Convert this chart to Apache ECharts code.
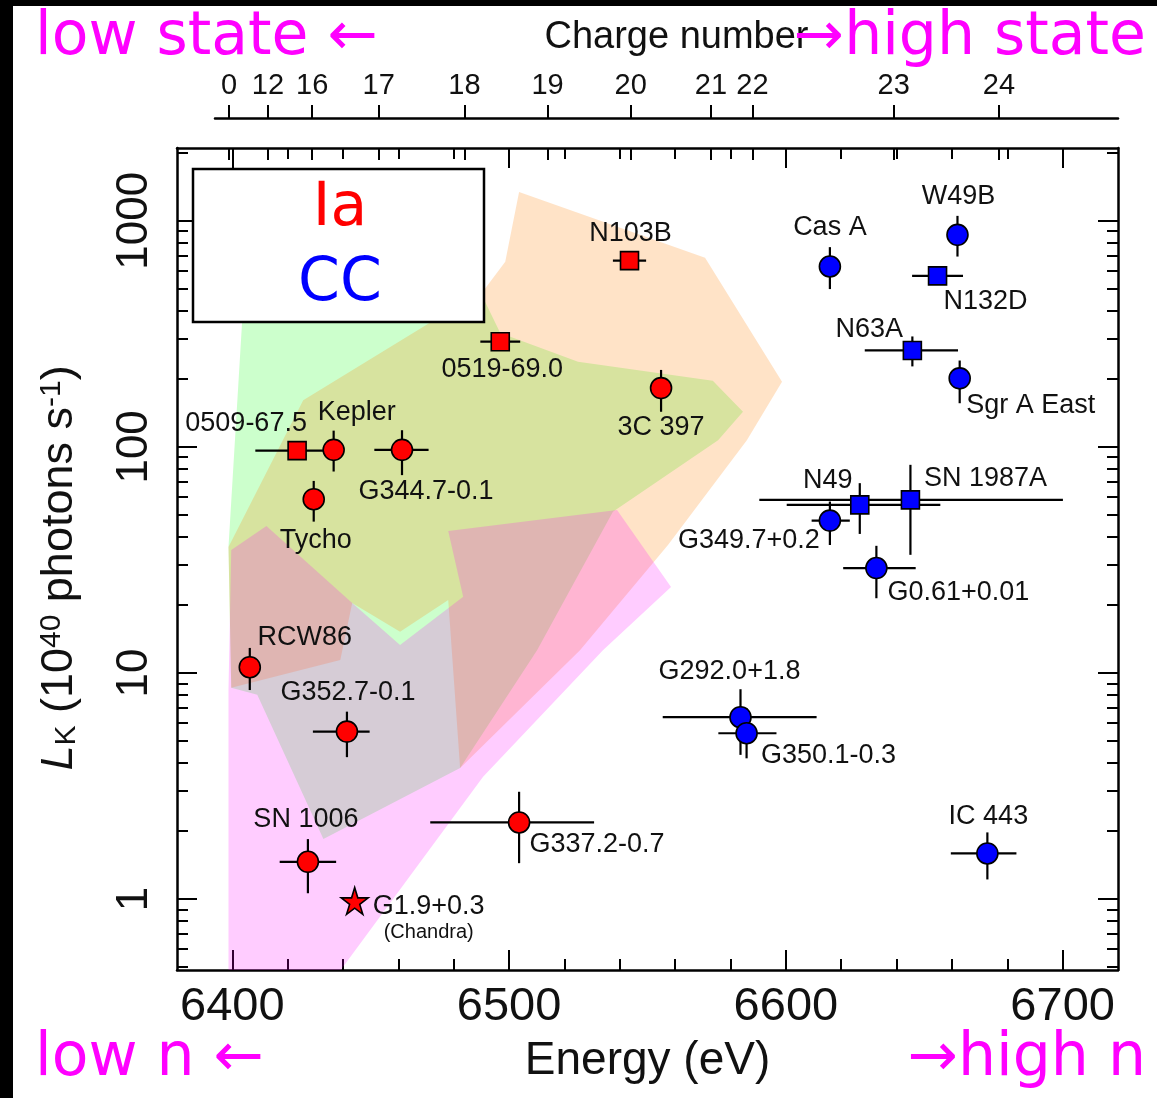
<!DOCTYPE html>
<html>
<head>
<meta charset="utf-8">
<script src="https://cdn.jsdelivr.net/npm/echarts@6/dist/echarts.min.js"></script>
<style>
  html, body { margin: 0; padding: 0; background: #fff; }
  #chart { width: 1157px; height: 1098px; }
</style>
</head>
<body>
<div id="chart"></div>
<script>
// Fe K-alpha centroid energy vs. K-shell line luminosity of supernova remnants

// Type Ia remnants
const iaNames = ['N103B', '0519-69.0', '3C 397', '0509-67.5', 'Kepler', 'G344.7-0.1', 'Tycho', 'RCW86', 'G352.7-0.1', 'SN 1006', 'G1.9+0.3', 'G337.2-0.7'];
const iaMarker = ['square', 'square', 'circle', 'square', 'circle', 'circle', 'circle', 'circle', 'circle', 'circle', 'star', 'circle'];
const iaEnergy = [6543.5, 6496.8, 6554.9, 6423.4, 6436.6, 6461.3, 6429.4, 6406.3, 6441.4, 6427.3, 6444.2, 6503.6];
const iaLum = [667, 292, 182, 96.3, 97, 97, 58.7, 10.6, 5.50, 1.46, 0.98, 2.18];
const iaEnergyErr = [[6537.5, 6549.5], [6489.6, 6504], [6554.9, 6554.9], [6408.3, 6438.3], [6433, 6440], [6451.3, 6470.9], [6429.4, 6429.4], [6403.5, 6409], [6429.1, 6449.6], [6417.1, 6437.5], [6444.2, 6444.2], [6471.5, 6530.7]];
const iaLumErr = [[667, 667], [292, 292], [143, 219], [96.3, 96.3], [77.8, 118], [75, 118.5], [46.7, 70.7], [8.4, 12.9], [4.24, 6.74], [1.06, 1.84], [0.98, 0.98], [1.44, 2.98]];

// Core-collapse remnants
const ccNames = ['W49B', 'Cas A', 'N132D', 'N63A', 'Sgr A East', 'N49', 'SN 1987A', 'G349.7+0.2', 'G0.61+0.01', 'G292.0+1.8', 'G350.1-0.3', 'IC 443'];
const ccMarker = ['circle', 'circle', 'square', 'square', 'circle', 'square', 'square', 'circle', 'circle', 'circle', 'circle', 'circle'];
const ccEnergy = [6662.0, 6615.9, 6654.8, 6645.7, 6662.8, 6626.7, 6645.0, 6615.9, 6632.7, 6583.6, 6585.8, 6672.8];
const ccLum = [867, 628, 571, 267, 201, 55.4, 58.3, 47.2, 29.1, 6.37, 5.41, 1.59];
const ccEnergyErr = [[6662, 6662], [6615.9, 6615.9], [6645.6, 6664.0], [6628.5, 6662.2], [6662.8, 6662.8], [6600.3, 6655.8], [6590.4, 6700.1], [6609.3, 6623.1], [6620.7, 6646.9], [6555.5, 6611.1], [6575.6, 6596.6], [6659.6, 6683.3]];
const ccLumErr = [[695, 1052], [499, 765], [571, 571], [227, 308], [156, 241], [41.2, 69.1], [33.3, 83.3], [36.8, 57.3], [21.4, 36.5], [4.34, 8.47], [4.19, 6.98], [1.22, 1.97]];

// Model regions in (energy, luminosity) space
const regionGreen = [[6404.0, 447], [6491.0, 447], [6496.8, 319], [6524.9, 238], [6573.6, 196], [6584.5, 143], [6575.5, 107], [6537.5, 51.6], [6510.1, 12.6], [6482.3, 3.80], [6432.9, 1.84], [6409.0, 8.0], [6399.6, 8.59], [6398.6, 36.1]];
const regionOrange = [[6503.6, 1343], [6570.8, 686], [6598.6, 194], [6585.9, 107], [6557.4, 36.8], [6525.6, 12.6], [6482.3, 3.80], [6478.0, 21.0], [6460.6, 15.2], [6443.3, 20.4], [6439.0, 11.4], [6399.6, 8.59], [6398.6, 36.1], [6425.6, 161], [6471.8, 357], [6491.0, 495], [6498.6, 659]];
const regionPink = [[6398.6, 0.45], [6398.6, 8.41], [6399.6, 35.0], [6412.3, 44.7], [6443.3, 20.4], [6460.6, 13.3], [6483.4, 21.7], [6478.0, 42.5], [6539.0, 52.6], [6558.5, 24.0], [6533.9, 12.6], [6490.6, 3.47], [6437.2, 0.45]];

// Axis ticks
const energyMajorTicks = [6400, 6500, 6600, 6700];
const energyMinorTicks = [6420, 6440, 6460, 6480, 6520, 6540, 6560, 6580, 6620, 6640, 6660, 6680];
const lumMajorTicks = [1, 10, 100, 1000];
const lumMinorTicks = [0.5, 0.6, 0.7, 0.8, 0.9, 2, 3, 4, 5, 6, 7, 8, 9, 20, 30, 40, 50, 60, 70, 80, 90, 200, 300, 400, 500, 600, 700, 800, 900, 2000];
const chargeLabels = ['0', '12', '16', '17', '18', '19', '20', '21', '22', '23', '24'];
const chargeEnergies = [6399, 6413, 6429, 6453, 6484, 6514, 6544, 6573, 6588, 6639, 6677];

// ---- styling / layout ----
const FONT = '"Liberation Sans", Arial, Helvetica, sans-serif';
const SLIDE_FONT = '"DejaVu Sans", Verdana, sans-serif';
const INK = '#111';
const MAGENTA = '#ff00ff';

const labelOffsets = {
  'N103B': [1, -27], '0519-69.0': [2, 28], '3C 397': [0, 39], '0509-67.5': [-51, -27],
  'Kepler': [23, -37], 'G344.7-0.1': [24, 42], 'Tycho': [2, 41], 'RCW86': [55, -30],
  'G352.7-0.1': [1, -39], 'SN 1006': [-2, -42], 'G1.9+0.3': [74, 18], 'G337.2-0.7': [78, 22],
  'W49B': [1, -38], 'Cas A': [0, -39], 'N132D': [48, 26], 'N63A': [-43, -21],
  'Sgr A East': [71, 27], 'N49': [-32, -24], 'SN 1987A': [75, -21], 'G349.7+0.2': [-81, 20],
  'G0.61+0.01': [82, 24], 'G292.0+1.8': [-11, -46], 'G350.1-0.3': [82, 22], 'IC 443': [1, -37]
};
const STAR = 'path://M50,0 L61,35 L98,35 L68,57 L79,91 L50,70 L21,91 L32,57 L2,35 L39,35 Z';
const symbolFor = { circle: 'circle', square: 'rect', star: STAR };
const sizeFor = { circle: 21, square: 18, star: 27 };

function pointItems(names, energy, lum, marker) {
  return names.map((n, i) => {
    const item = {
      name: n,
      value: [energy[i], lum[i]],
      symbol: symbolFor[marker[i]],
      symbolSize: sizeFor[marker[i]],
      label: { offset: labelOffsets[n] }
    };
    if (n === 'G1.9+0.3') {
      item.label.formatter = '{a|G1.9+0.3}\n{c|(Chandra)}';
      item.label.rich = {
        a: { fontSize: 27, fontFamily: FONT, color: INK, lineHeight: 28, align: 'left' },
        c: { fontSize: 20, fontFamily: FONT, color: INK, lineHeight: 24, align: 'center' }
      };
    }
    return item;
  });
}

function errorItems(energy, lum, eErr, lErr) {
  return energy.map((e, i) => [e, lum[i], eErr[i][0], eErr[i][1], lErr[i][0], lErr[i][1]]);
}

function renderErrorBar(params, api) {
  const y = api.value(1), x = api.value(0);
  const a = api.coord([api.value(2), y]);
  const b = api.coord([api.value(3), y]);
  const c = api.coord([x, api.value(4)]);
  const d = api.coord([x, api.value(5)]);
  const st = { stroke: '#000', lineWidth: 2.2 };
  return {
    type: 'group',
    children: [
      { type: 'line', shape: { x1: a[0], y1: a[1], x2: b[0], y2: b[1] }, style: st },
      { type: 'line', shape: { x1: c[0], y1: c[1], x2: d[0], y2: d[1] }, style: st }
    ]
  };
}

// translucent model regions; later ones are laid over earlier ones
function regionSeries(verts, color, z) {
  return {
    type: 'custom',
    xAxisIndex: 0, yAxisIndex: 0,
    z: z, silent: true, clip: true,
    data: verts,
    renderItem(params, api) {
      if (params.dataIndex !== 0) return null;
      const pts = verts.map(v => api.coord(v));
      return { type: 'polygon', shape: { points: pts }, style: { fill: color } };
    }
  };
}

function scatterSeries(items, color) {
  return {
    type: 'scatter',
    xAxisIndex: 0, yAxisIndex: 0,
    z: 5,
    data: items,
    itemStyle: { color: color, borderColor: '#000', borderWidth: 1.6, opacity: 1 },
    label: { show: true, position: 'inside', formatter: '{b}', fontSize: 27, fontFamily: FONT, color: INK },
    emphasis: { disabled: true }
  };
}

const tickLine = { color: '#000', width: 2 };
const noLabel = { show: false };

function energyAxis(position, values, len, withLine, extra) {
  return Object.assign({
    gridIndex: 0, type: 'value', position: position, min: 6380, max: 6720,
    axisLine: { show: withLine, onZero: false, lineStyle: { color: '#000', width: 2.5 } },
    axisTick: { show: true, inside: true, length: len, customValues: values, lineStyle: tickLine },
    axisLabel: noLabel, splitLine: { show: false }
  }, extra || {});
}

function lumAxis(position, values, len, withLine, extra) {
  return Object.assign({
    gridIndex: 0, type: 'log', logBase: 10, position: position, min: 0.485, max: 2100,
    axisLine: { show: withLine, onZero: false, lineStyle: { color: '#000', width: 2.5 } },
    axisTick: { show: true, inside: true, length: len, customValues: values, lineStyle: tickLine },
    axisLabel: noLabel, splitLine: { show: false }
  }, extra || {});
}

const option = {
  backgroundColor: '#fff',
  animation: false,
  grid: [
    { left: 177, top: 148, right: 39, bottom: 128, containLabel: false },
    { left: 215, top: 118, right: 39, height: 30, containLabel: false }
  ],
  xAxis: [
    energyAxis('bottom', energyMajorTicks, 20, true, {
      axisLabel: { show: true, customValues: energyMajorTicks, formatter: v => String(v), fontSize: 47, fontFamily: FONT, color: INK, margin: 14 },
      name: 'Energy (eV)', nameLocation: 'middle', nameGap: 68,
      nameTextStyle: { fontSize: 46, fontFamily: FONT, color: INK }
    }),
    energyAxis('bottom', energyMinorTicks, 11, false),
    energyAxis('top', energyMajorTicks, 20, true),
    energyAxis('top', energyMinorTicks, 11, false),
    {
      gridIndex: 1, type: 'value', position: 'top', min: 6393.9, max: 6720,
      axisLine: { show: true, onZero: false, lineStyle: { color: '#000', width: 2.5 } },
      axisTick: { show: true, inside: false, length: 13, customValues: chargeEnergies, lineStyle: tickLine },
      axisLabel: {
        show: true, customValues: chargeEnergies, fontSize: 29, fontFamily: FONT, color: INK, margin: 18,
        formatter: v => { const k = chargeEnergies.findIndex(e => Math.abs(e - v) < 1e-6); return k >= 0 ? chargeLabels[k] : ''; }
      },
      splitLine: { show: false },
      name: 'Charge number', nameLocation: 'middle', nameGap: 61,
      nameTextStyle: { fontSize: 38, fontFamily: FONT, color: INK, padding: [0, 0, 0, 20] }
    },
    {
      gridIndex: 1, type: 'value', position: 'top', min: 6393.9, max: 6720,
      axisLine: { show: false },
      axisTick: { show: true, inside: true, length: 12, customValues: chargeEnergies, lineStyle: tickLine },
      axisLabel: noLabel, splitLine: { show: false }
    }
  ],
  yAxis: [
    lumAxis('left', lumMajorTicks, 20, true, {
      axisLabel: { show: true, customValues: lumMajorTicks, formatter: v => String(v), rotate: 90, fontSize: 44, fontFamily: FONT, color: INK, margin: 20 },
      name: '{i|L}{sub|K} (10{sup|40} photons s{sup|-1})',
      nameLocation: 'middle', nameGap: 95,
      nameTextStyle: {
        fontSize: 45, fontFamily: FONT, color: INK, padding: [0, 18, 0, 0],
        rich: {
          i: { fontSize: 45, fontStyle: 'italic', fontFamily: FONT, color: INK },
          sub: { fontSize: 30, fontFamily: FONT, color: INK, verticalAlign: 'bottom', padding: [14, 0, 0, 0] },
          sup: { fontSize: 30, fontFamily: FONT, color: INK, verticalAlign: 'top', padding: [0, 0, 14, 0] }
        }
      }
    }),
    lumAxis('left', lumMinorTicks, 11, false),
    lumAxis('right', lumMajorTicks, 20, true),
    lumAxis('right', lumMinorTicks, 11, false),
    { gridIndex: 1, type: 'value', show: false }
  ],
  graphic: [
    { type: 'rect', z: 100, shape: { x: 0, y: 0, width: 13, height: 1098 }, style: { fill: '#000' } },
    { type: 'rect', z: 100, shape: { x: 0, y: 0, width: 1157, height: 6 }, style: { fill: '#000' } },
    { type: 'rect', z: 100, shape: { x: 193, y: 169, width: 291, height: 153 }, style: { fill: '#fff', stroke: '#000', lineWidth: 2.5 } },
    { type: 'text', z: 101, x: 340, y: 209, style: { text: 'Ia', fill: '#ff0000', font: '60px ' + SLIDE_FONT, textAlign: 'center', textVerticalAlign: 'middle' } },
    { type: 'text', z: 101, x: 340, y: 284, style: { text: 'CC', fill: '#0000ff', font: '60px ' + SLIDE_FONT, textAlign: 'center', textVerticalAlign: 'middle' } },
    { type: 'text', z: 101, x: 35, y: 38, style: { text: 'low state \u2190', fill: MAGENTA, font: '60px ' + SLIDE_FONT, textAlign: 'left', textVerticalAlign: 'middle' } },
    { type: 'text', z: 101, x: 1146, y: 38, style: { text: '\u2192high state', fill: MAGENTA, font: '60px ' + SLIDE_FONT, textAlign: 'right', textVerticalAlign: 'middle' } },
    { type: 'text', z: 101, x: 35, y: 1059, style: { text: 'low n \u2190', fill: MAGENTA, font: '60px ' + SLIDE_FONT, textAlign: 'left', textVerticalAlign: 'middle' } },
    { type: 'text', z: 101, x: 1146, y: 1059, style: { text: '\u2192high n', fill: MAGENTA, font: '60px ' + SLIDE_FONT, textAlign: 'right', textVerticalAlign: 'middle' } }
  ],
  series: [
    regionSeries(regionGreen, 'rgba(0,255,0,0.2)', 1),
    regionSeries(regionOrange, 'rgba(255,128,0,0.22)', 1.1),
    regionSeries(regionPink, 'rgba(255,0,255,0.2)', 1.2),
    {
      type: 'custom', xAxisIndex: 0, yAxisIndex: 0, z: 3, silent: true, clip: false,
      data: errorItems(iaEnergy, iaLum, iaEnergyErr, iaLumErr), renderItem: renderErrorBar
    },
    {
      type: 'custom', xAxisIndex: 0, yAxisIndex: 0, z: 3, silent: true, clip: false,
      data: errorItems(ccEnergy, ccLum, ccEnergyErr, ccLumErr), renderItem: renderErrorBar
    },
    scatterSeries(pointItems(iaNames, iaEnergy, iaLum, iaMarker), '#ff0000'),
    scatterSeries(pointItems(ccNames, ccEnergy, ccLum, ccMarker), '#0000ff')
  ]
};

const chart = echarts.init(document.getElementById('chart'), null, { renderer: 'canvas' });
chart.setOption(option);
</script>
</body>
</html>
